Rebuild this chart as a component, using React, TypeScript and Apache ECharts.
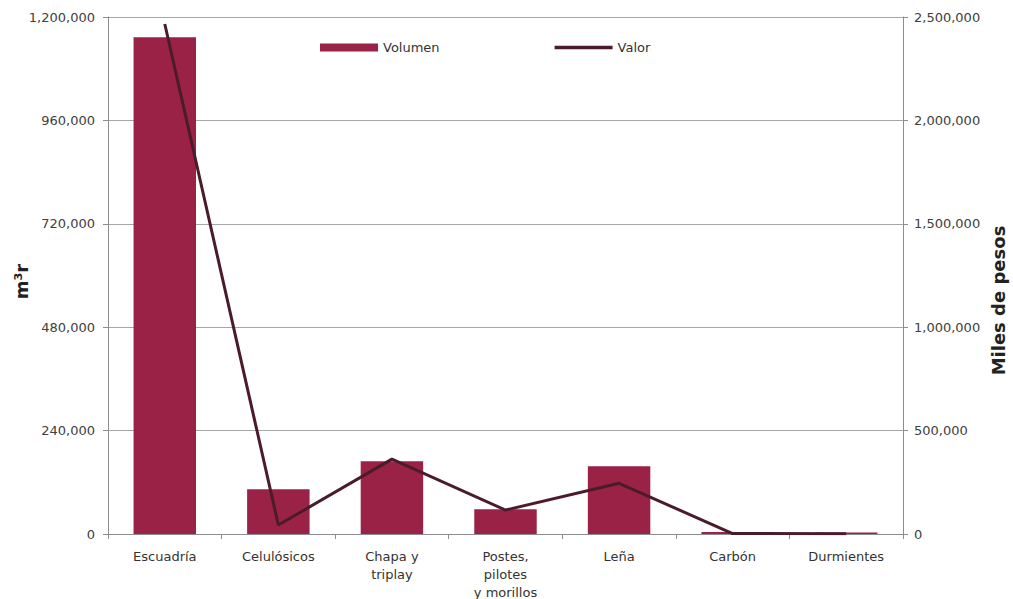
import React, { useEffect, useRef } from "react";
import * as echarts from "echarts";

const categories = ["Escuadría", "Celulósicos", "Chapa y\ntriplay", "Postes,\npilotes\ny morillos", "Leña", "Carbón", "Durmientes"];
const volumen = [1153000, 104000, 169000, 57500, 157000, 4500, 3500];
const valor = [2466000, 43500, 362000, 116000, 245000, 2000, 1500];
const leftTicks = { min: 0, max: 1200000, interval: 240000 };
const rightTicks = { min: 0, max: 2500000, interval: 500000 };

const fmt = (v: number) => v.toLocaleString("en-US");
const FONT = "DejaVu Sans";

export default function App() {
  const ref = useRef<HTMLDivElement>(null);
  useEffect(() => {
    const chart = echarts.init(ref.current!, null, { renderer: "svg" });
    chart.setOption({
      animation: false,
      textStyle: { fontFamily: FONT },
      grid: { left: 108, right: 110, top: 17, bottom: 65, containLabel: false, outerBoundsMode: "none" },
      legend: {
        left: 315,
        top: 36,
        itemWidth: 58,
        itemHeight: 8,
        itemGap: 115,
        textStyle: { fontFamily: FONT, fontSize: 13, color: "#333" },
        data: [
          { name: "Volumen", icon: "rect" },
          { name: "Valor", icon: "path://M0,0L58,0L58,3.5L0,3.5Z", itemStyle: { color: "#4a1c2b" } },
        ],
      },
      xAxis: {
        type: "category",
        data: categories,
        axisLine: { lineStyle: { color: "#8c8c8c", width: 1 } },
        axisTick: { show: true, length: 5, lineStyle: { color: "#8c8c8c" } },
        axisLabel: { fontFamily: FONT, fontSize: 13, color: "#333", margin: 13, lineHeight: 18, interval: 0 },
      },
      yAxis: [
        {
          type: "value",
          ...leftTicks,
          name: "m³r",
          nameLocation: "middle",
          nameGap: 78,
          nameRotate: 90,
          nameMoveOverlap: false,
          nameTextStyle: { fontFamily: FONT, fontSize: 18, fontWeight: "bold", color: "#222", padding: [0, 12, 0, 0] },
          axisLine: { show: true, lineStyle: { color: "#8c8c8c" } },
          axisTick: { show: true, length: 5, lineStyle: { color: "#8c8c8c" } },
          axisLabel: { fontFamily: FONT, fontSize: 13, color: "#404040", margin: 13, formatter: fmt },
          splitLine: { show: true, lineStyle: { color: "#a6a6a6", width: 1 } },
        },
        {
          type: "value",
          ...rightTicks,
          position: "right",
          name: "Miles de pesos",
          nameLocation: "middle",
          nameGap: 86,
          nameRotate: 90,
          nameMoveOverlap: false,
          nameTextStyle: { fontFamily: FONT, fontSize: 18, fontWeight: "bold", color: "#222", padding: [0, 50, 0, 0] },
          axisLine: { show: true, lineStyle: { color: "#8c8c8c" } },
          axisTick: { show: true, length: 5, inside: false, lineStyle: { color: "#8c8c8c" } },
          axisLabel: { fontFamily: FONT, fontSize: 13, color: "#404040", margin: 11, formatter: fmt },
          splitLine: { show: false },
        },
      ],
      series: [
        {
          name: "Volumen",
          type: "bar",
          data: volumen,
          barWidth: "55%",
          itemStyle: { color: "#9b2247" },
          yAxisIndex: 0,
        },
        {
          name: "Valor",
          type: "line",
          data: valor,
          yAxisIndex: 1,
          symbol: "none",
          lineStyle: { color: "#4a1c2b", width: 3 },
          itemStyle: { color: "#4a1c2b" },
        },
      ],
    });
    return () => chart.dispose();
  }, []);
  return <div ref={ref} style={{ position: "fixed", left: 0, top: 0, width: 1013, height: 599, background: "#fff" }} />;
}
